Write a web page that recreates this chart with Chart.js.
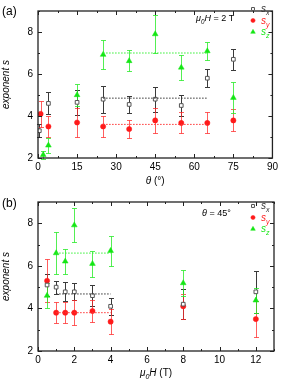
<!DOCTYPE html>
<html>
<head>
<meta charset="utf-8">
<script src="https://cdn.jsdelivr.net/npm/chart.js@4.4.0/dist/chart.umd.min.js"></script>
<style>
  html, body { margin: 0; padding: 0; background: #fff; }
  #wrap { position: relative; width: 281px; height: 382px; }
  canvas { position: absolute; left: 0; }
</style>
</head>
<body>
<div id="wrap">
  <canvas id="chartA" width="281" height="191" style="top:0"></canvas>
  <canvas id="chartB" width="281" height="191" style="top:191px"></canvas>
</div>
<script>
// (a) exponents vs angle theta, at mu0H = 2 T
const thetaSx = [0.5, 4, 15, 25, 35, 45, 55, 65, 75];
const aSx = [3.3, 4.6, 4.65, 4.8, 4.55, 4.8, 4.5, 5.8, 6.7];
const aSxErr = [0.3, 0.52, 0.6, 0.65, 0.42, 0.6, 0.5, 0.42, 0.5];
const thetaSy = [1, 4, 15, 25, 35, 45, 55, 65, 75];
const aSy = [4.1, 3.5, 3.69, 3.5, 3.38, 3.79, 3.67, 3.67, 3.79];
const aSyErr = [0.6, 0.52, 0.71, 0.5, 0.42, 0.6, 0.5, 0.5, 0.52];
const thetaSz = [2, 4, 15, 25, 35, 45, 55, 65, 75];
const aSz = [2.15, 2.6, 5.0, 6.92, 6.62, 7.9, 6.31, 7.09, 4.87];
const aSzErr = [0.2, 0.36, 0.52, 0.7, 0.5, 0.9, 0.6, 0.42, 0.75];
// averages drawn as dotted lines over 25..65 deg
const aMeanRange = [25, 65];
const aMeans = [4.85, 3.6, 7.0]; // sx, sy, sz

// (b) exponents vs field, at theta = 45 deg
const field = [0.5, 1, 1.5, 2, 3, 4, 8, 12];
const bSx = [5.1, 5.0, 4.78, 4.78, 4.6, 4.1, 4.2, 4.78];
const bSxErr = [0.5, 0.3, 0.45, 0.4, 0.5, 0.4, 0.7, 1.0];
const bSy = [5.3, 3.8, 3.8, 3.8, 3.88, 3.38, 4.1, 3.5];
const bSyErr = [1.0, 0.5, 0.5, 0.6, 0.5, 0.58, 0.6, 0.86];
const bSz = [4.6, 6.6, 6.21, 7.91, 6.1, 6.71, 5.19, 4.38];
const bSzErr = [0.6, 1.0, 0.6, 0.8, 0.6, 0.7, 0.6, 0.6];
const bMeanRange = [1, 4];
const bMeans = [4.68, 3.8, 6.6];

const BLACK = '#333333';
const RED = '#ff1a1a';
const GREEN = '#14e614';
const FONT = '"Liberation Sans", Arial, sans-serif';

function pts(xs, ys) {
  return xs.map((x, i) => ({ x: x, y: ys[i] }));
}

function meanLine(range, value, color) {
  return {
    type: 'line',
    data: pts(range, [value, value]),
    borderColor: color,
    borderWidth: 1,
    borderDash: [1.5, 1.5],
    pointRadius: 0,
    showLine: true,
    fill: false
  };
}

function series(xs, ys, errs, kind) {
  const styles = {
    x: { pointStyle: 'rect', pointRadius: 2.6, pointBackgroundColor: '#ffffff', pointBorderColor: '#555555', pointBorderWidth: 1, barColor: '#3a3a3a', label: 'x', textColor: '#333333' },
    y: { pointStyle: 'circle', pointRadius: 2.6, pointBackgroundColor: RED, pointBorderColor: RED, pointBorderWidth: 0.5, barColor: 'rgba(255,40,40,0.75)', label: 'y', textColor: RED },
    z: { pointStyle: 'triangle', pointRadius: 3.3, pointBackgroundColor: GREEN, pointBorderColor: GREEN, pointBorderWidth: 0.5, barColor: 'rgba(40,235,40,0.8)', label: 'z', textColor: GREEN }
  };
  const s = styles[kind];
  return Object.assign({ data: pts(xs, ys), errors: errs, showLine: false }, s);
}

// rich text: parts of {t, i (italic), sub, color}
function drawRich(ctx, parts, x, y, size, align) {
  const fontOf = p => (p.i ? 'italic ' : '') + (p.sub ? size * 0.7 : size) + 'px ' + FONT;
  let w = 0;
  parts.forEach(p => { ctx.font = fontOf(p); w += ctx.measureText(p.t).width; });
  let cx = align === 'center' ? x - w / 2 : x;
  ctx.textAlign = 'left';
  ctx.textBaseline = 'alphabetic';
  parts.forEach(p => {
    ctx.font = fontOf(p);
    ctx.fillStyle = p.color || '#000';
    ctx.fillText(p.t, cx, y + (p.sub ? size * 0.3 : 0));
    cx += ctx.measureText(p.t).width;
  });
}

const decor = {
  id: 'decor',
  beforeDatasetsDraw(chart) {
    const { ctx, scales: { x, y } } = chart;
    ctx.save();
    chart.data.datasets.forEach(ds => {
      if (!ds.errors) return;
      ctx.strokeStyle = ds.barColor;
      ctx.lineWidth = 1;
      ds.data.forEach((p, i) => {
        const px = Math.round(x.getPixelForValue(p.x)) + 0.5;
        const top = Math.round(y.getPixelForValue(p.y + ds.errors[i])) + 0.5;
        const bot = Math.round(y.getPixelForValue(p.y - ds.errors[i])) + 0.5;
        ctx.beginPath();
        ctx.moveTo(px, top); ctx.lineTo(px, bot);
        ctx.moveTo(px - 2.5, top); ctx.lineTo(px + 2.5, top);
        ctx.moveTo(px - 2.5, bot); ctx.lineTo(px + 2.5, bot);
        ctx.stroke();
      });
    });
    ctx.restore();
  },
  afterDatasetsDraw(chart, args, opts) {
    const { ctx, chartArea: a, scales: { x, y } } = chart;
    ctx.save();
    // frame
    ctx.strokeStyle = '#222';
    ctx.lineWidth = 1.3;
    ctx.strokeRect(a.left, a.top, a.width, a.height);
    // inside ticks, mirrored
    ctx.lineWidth = 1;
    ctx.beginPath();
    const xMajor = x.ticks.map(t => t.value);
    for (let v = x.min; v <= x.max + 1e-9; v += opts.xMinor) {
      const major = xMajor.some(m => Math.abs(m - v) < 1e-6);
      const len = major ? 4 : 2;
      const p = Math.round(x.getPixelForValue(v)) + 0.5;
      ctx.moveTo(p, a.bottom); ctx.lineTo(p, a.bottom - len);
      ctx.moveTo(p, a.top); ctx.lineTo(p, a.top + len);
    }
    const yMajor = y.ticks.map(t => t.value);
    for (let v = y.min; v <= y.max + 1e-9; v += opts.yMinor) {
      const major = yMajor.some(m => Math.abs(m - v) < 1e-6);
      const len = major ? 4 : 2;
      const p = Math.round(y.getPixelForValue(v)) + 0.5;
      ctx.moveTo(a.left, p); ctx.lineTo(a.left + len, p);
      ctx.moveTo(a.right, p); ctx.lineTo(a.right - len, p);
    }
    ctx.stroke();

    // panel letter, annotation, x title
    drawRich(ctx, [{ t: opts.panel }], 2, opts.panelY, 12, 'left');
    drawRich(ctx, opts.note, opts.noteX, opts.noteY, 9, 'left');
    drawRich(ctx, opts.xTitle, (a.left + a.right) / 2, opts.xTitleY, 10, 'center');

    // legend built from the point datasets
    let row = 0;
    chart.data.datasets.forEach(ds => {
      if (!ds.errors) return;
      const ly = opts.legendY + row * opts.legendGap;
      ctx.fillStyle = ds.pointBackgroundColor;
      ctx.strokeStyle = ds.pointBorderColor;
      ctx.lineWidth = ds.pointBorderWidth;
      Chart.helpers.drawPoint(ctx, { pointStyle: ds.pointStyle, radius: ds.pointRadius * 0.8, borderWidth: ds.pointBorderWidth, rotation: 0 }, 253, ly);
      drawRich(ctx, [{ t: 's', i: 1, color: ds.textColor }, { t: ds.label, i: 1, sub: 1, color: ds.textColor }], 261, ly + 3, 10, 'left');
      row++;
    });
    ctx.restore();
  }
};

function makeChart(id, datasets, xOpts, layoutPad, xHeight, decorOpts) {
  return new Chart(document.getElementById(id), {
    type: 'scatter',
    data: { datasets: datasets },
    options: {
      responsive: false,
      animation: false,
      devicePixelRatio: 1,
      layout: { padding: layoutPad },
      plugins: { legend: { display: false }, tooltip: { enabled: false }, decor: decorOpts },
      scales: {
        x: Object.assign({
          type: 'linear',
          grid: { display: false, drawTicks: false },
          border: { display: false },
          afterFit: s => { s.height = xHeight; }
        }, xOpts),
        y: {
          type: 'linear',
          min: 2,
          max: 9,
          grid: { display: false, drawTicks: false },
          border: { display: false },
          ticks: { stepSize: 2, padding: 5, color: '#000', font: { family: FONT, size: 10 }, includeBounds: false },
          title: { display: true, text: 'exponent s', color: '#000', font: { family: FONT, size: 10, style: 'italic' }, padding: 0 },
          afterFit: s => { s.width = 38; }
        }
      }
    },
    plugins: [decor]
  });
}

makeChart('chartA', [
  meanLine(aMeanRange, aMeans[0], BLACK),
  meanLine(aMeanRange, aMeans[1], '#ff3333'),
  meanLine(aMeanRange, aMeans[2], '#33f033'),
  series(thetaSx, aSx, aSxErr, 'x'),
  series(thetaSy, aSy, aSyErr, 'y'),
  series(thetaSz, aSz, aSzErr, 'z')
], { min: 0, max: 90, ticks: { stepSize: 15, padding: 3, color: '#000', font: { family: FONT, size: 10 }, includeBounds: false } },
{ left: 0, right: 7, top: 3, bottom: 0 }, 33, {
  panel: '(a)', panelY: 15,
  note: [{ t: 'μ', i: 1 }, { t: '0', i: 1, sub: 1 }, { t: 'H', i: 1 }, { t: ' = 2 T' }],
  noteX: 196, noteY: 21,
  xTitle: [{ t: 'θ', i: 1 }, { t: ' (°)' }], xTitleY: 184,
  legendY: 9, legendGap: 11.5,
  xMinor: 7.5, yMinor: 1
});

makeChart('chartB', [
  meanLine(bMeanRange, bMeans[0], BLACK),
  meanLine(bMeanRange, bMeans[1], '#ff3333'),
  meanLine(bMeanRange, bMeans[2], '#33f033'),
  series(field, bSx, bSxErr, 'x'),
  series(field, bSy, bSyErr, 'y'),
  series(field, bSz, bSzErr, 'z')
], { min: 0, max: 13, ticks: { stepSize: 2, padding: 3, color: '#000', font: { family: FONT, size: 10 }, includeBounds: false } },
{ left: 0, right: 7, top: 5, bottom: 0 }, 31, {
  panel: '(b)', panelY: 16,
  note: [{ t: 'θ', i: 1 }, { t: ' = 45°' }],
  noteX: 202, noteY: 24.5,
  xTitle: [{ t: 'μ', i: 1 }, { t: '0', i: 1, sub: 1 }, { t: 'H', i: 1 }, { t: ' (T)' }], xTitleY: 185,
  legendY: 15, legendGap: 11.5,
  xMinor: 1, yMinor: 1
});
</script>
</body>
</html>
